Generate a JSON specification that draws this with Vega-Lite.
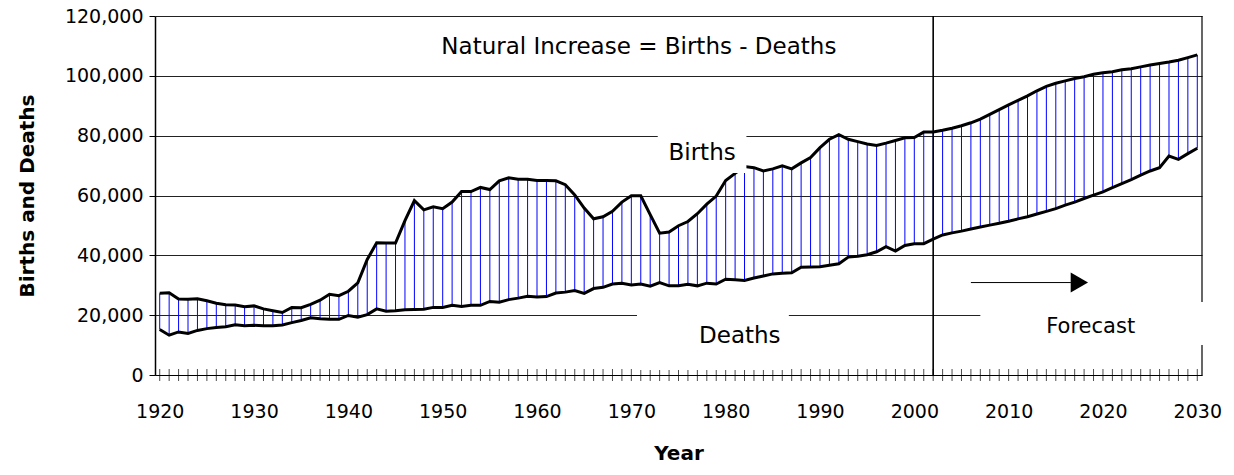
{
  "$schema": "https://vega.github.io/schema/vega-lite/v6.json",
  "width": 1047,
  "height": 359,
  "autosize": "none",
  "padding": {"left": 155, "top": 16, "right": 32, "bottom": 100},
  "background": "white",
  "config": {
    "view": {"stroke": null},
    "font": "DejaVu Sans",
    "axis": {"labelFont": "DejaVu Sans", "titleFont": "DejaVu Sans", "labelColor": "black", "titleColor": "black", "domainColor": "black", "tickColor": "black", "labelFontSize": 19, "titleFontSize": 20, "titleFontWeight": "bold"},
    "axisX": {"ticks": false, "grid": false, "domainWidth": 1, "labelPadding": 27, "titlePadding": 22, "labelExpr": "format(datum.value, 'd')"},
    "axisY": {"grid": true, "gridColor": "#222222", "gridWidth": 1, "domainWidth": 1.5, "tickSize": 6, "labelPadding": 6, "titlePadding": 27, "labelExpr": "format(datum.value, ',')"}
  },
  "datasets": {
    "d": [
      {"year": 1920, "births": 27300, "deaths": 15200},
      {"year": 1921, "births": 27500, "deaths": 13300},
      {"year": 1922, "births": 25400, "deaths": 14400},
      {"year": 1923, "births": 25300, "deaths": 13900},
      {"year": 1924, "births": 25500, "deaths": 14900},
      {"year": 1925, "births": 24800, "deaths": 15500},
      {"year": 1926, "births": 24000, "deaths": 15900},
      {"year": 1927, "births": 23500, "deaths": 16100},
      {"year": 1928, "births": 23400, "deaths": 16800},
      {"year": 1929, "births": 22800, "deaths": 16500},
      {"year": 1930, "births": 23100, "deaths": 16600},
      {"year": 1931, "births": 22100, "deaths": 16500},
      {"year": 1932, "births": 21500, "deaths": 16500},
      {"year": 1933, "births": 20900, "deaths": 16700},
      {"year": 1934, "births": 22600, "deaths": 17500},
      {"year": 1935, "births": 22500, "deaths": 18200},
      {"year": 1936, "births": 23600, "deaths": 19100},
      {"year": 1937, "births": 25000, "deaths": 18800},
      {"year": 1938, "births": 27000, "deaths": 18600},
      {"year": 1939, "births": 26500, "deaths": 18600},
      {"year": 1940, "births": 28000, "deaths": 19900},
      {"year": 1941, "births": 30800, "deaths": 19300},
      {"year": 1942, "births": 38600, "deaths": 20200},
      {"year": 1943, "births": 44200, "deaths": 22100},
      {"year": 1944, "births": 44100, "deaths": 21300},
      {"year": 1945, "births": 44100, "deaths": 21500},
      {"year": 1946, "births": 51600, "deaths": 21800},
      {"year": 1947, "births": 58300, "deaths": 21900},
      {"year": 1948, "births": 55200, "deaths": 22000},
      {"year": 1949, "births": 56200, "deaths": 22600},
      {"year": 1950, "births": 55600, "deaths": 22600},
      {"year": 1951, "births": 57800, "deaths": 23300},
      {"year": 1952, "births": 61300, "deaths": 22900},
      {"year": 1953, "births": 61300, "deaths": 23300},
      {"year": 1954, "births": 62700, "deaths": 23300},
      {"year": 1955, "births": 62000, "deaths": 24600},
      {"year": 1956, "births": 64900, "deaths": 24300},
      {"year": 1957, "births": 65900, "deaths": 25200},
      {"year": 1958, "births": 65400, "deaths": 25700},
      {"year": 1959, "births": 65400, "deaths": 26300},
      {"year": 1960, "births": 65000, "deaths": 26100},
      {"year": 1961, "births": 65000, "deaths": 26200},
      {"year": 1962, "births": 64900, "deaths": 27400},
      {"year": 1963, "births": 63600, "deaths": 27700},
      {"year": 1964, "births": 60200, "deaths": 28200},
      {"year": 1965, "births": 55800, "deaths": 27300},
      {"year": 1966, "births": 52200, "deaths": 28900},
      {"year": 1967, "births": 52900, "deaths": 29300},
      {"year": 1968, "births": 54700, "deaths": 30400},
      {"year": 1969, "births": 57800, "deaths": 30700},
      {"year": 1970, "births": 59900, "deaths": 30100},
      {"year": 1971, "births": 59900, "deaths": 30400},
      {"year": 1972, "births": 53600, "deaths": 29700},
      {"year": 1973, "births": 47400, "deaths": 30900},
      {"year": 1974, "births": 47800, "deaths": 29800},
      {"year": 1975, "births": 49900, "deaths": 29800},
      {"year": 1976, "births": 51300, "deaths": 30300},
      {"year": 1977, "births": 53900, "deaths": 29800},
      {"year": 1978, "births": 57100, "deaths": 30700},
      {"year": 1979, "births": 59800, "deaths": 30400},
      {"year": 1980, "births": 65000, "deaths": 32000},
      {"year": 1981, "births": 67400, "deaths": 31800},
      {"year": 1982, "births": 69700, "deaths": 31600},
      {"year": 1983, "births": 69300, "deaths": 32400},
      {"year": 1984, "births": 68200, "deaths": 33100},
      {"year": 1985, "births": 68900, "deaths": 33800},
      {"year": 1986, "births": 69900, "deaths": 34000},
      {"year": 1987, "births": 68900, "deaths": 34200},
      {"year": 1988, "births": 70900, "deaths": 36000},
      {"year": 1989, "births": 72700, "deaths": 36100},
      {"year": 1990, "births": 76000, "deaths": 36200},
      {"year": 1991, "births": 78800, "deaths": 36700},
      {"year": 1992, "births": 80300, "deaths": 37200},
      {"year": 1993, "births": 78800, "deaths": 39400},
      {"year": 1994, "births": 78000, "deaths": 39700},
      {"year": 1995, "births": 77200, "deaths": 40200},
      {"year": 1996, "births": 76700, "deaths": 41200},
      {"year": 1997, "births": 77500, "deaths": 42900},
      {"year": 1998, "births": 78400, "deaths": 41400},
      {"year": 1999, "births": 79300, "deaths": 43300},
      {"year": 2000, "births": 79400, "deaths": 43900},
      {"year": 2001, "births": 81200, "deaths": 43900},
      {"year": 2002, "births": 81200, "deaths": 45400},
      {"year": 2003, "births": 81800, "deaths": 46800},
      {"year": 2004, "births": 82500, "deaths": 47500},
      {"year": 2005, "births": 83300, "deaths": 48100},
      {"year": 2006, "births": 84300, "deaths": 48800},
      {"year": 2007, "births": 85500, "deaths": 49500},
      {"year": 2008, "births": 87100, "deaths": 50100},
      {"year": 2009, "births": 88700, "deaths": 50700},
      {"year": 2010, "births": 90300, "deaths": 51400},
      {"year": 2011, "births": 91800, "deaths": 52200},
      {"year": 2012, "births": 93300, "deaths": 52900},
      {"year": 2013, "births": 95000, "deaths": 53800},
      {"year": 2014, "births": 96500, "deaths": 54700},
      {"year": 2015, "births": 97500, "deaths": 55600},
      {"year": 2016, "births": 98300, "deaths": 56800},
      {"year": 2017, "births": 99100, "deaths": 57800},
      {"year": 2018, "births": 99700, "deaths": 59000},
      {"year": 2019, "births": 100500, "deaths": 60100},
      {"year": 2020, "births": 101000, "deaths": 61200},
      {"year": 2021, "births": 101400, "deaths": 62600},
      {"year": 2022, "births": 102000, "deaths": 64000},
      {"year": 2023, "births": 102400, "deaths": 65300},
      {"year": 2024, "births": 103000, "deaths": 66800},
      {"year": 2025, "births": 103600, "deaths": 68200},
      {"year": 2026, "births": 104100, "deaths": 69300},
      {"year": 2027, "births": 104600, "deaths": 73200},
      {"year": 2028, "births": 105200, "deaths": 72100},
      {"year": 2029, "births": 106100, "deaths": 74000},
      {"year": 2030, "births": 107000, "deaths": 75800}
    ],
    "vlines": [
      {"year": 2002, "w": "forecast"},
      {"year": 2030.5, "w": "edge"}
    ],
    "boxes": [
      {"year": 1972.8, "year2": 1982.2, "value": 67500, "value2": 83600},
      {"year": 1970.6, "year2": 1986.7, "value": 1700, "value2": 23400},
      {"year": 2007.0, "year2": 2030.9, "value": 10000, "value2": 24400}
    ],
    "labels": [
      {"year": 1970.8, "value": 109700, "text": "Natural Increase = Births - Deaths", "size": "big"},
      {"year": 1977.5, "value": 74200, "text": "Births", "size": "big"},
      {"year": 1981.5, "value": 13000, "text": "Deaths", "size": "big"},
      {"year": 2018.7, "value": 16200, "text": "Forecast", "size": "small"}
    ],
    "arrow": [
      {"year": 2006.0, "year2": 2016.6, "head": 2017.5, "value": 30900}
    ]
  },
  "layer": [
    {
      "data": {"name": "d"},
      "mark": {"type": "rule", "color": "#0000ff", "strokeWidth": 1},
      "encoding": {
        "x": {"field": "year", "type": "quantitative", "title": "Year",
          "scale": {"domain": [1919.5, 2030.5], "nice": false, "zero": false},
          "axis": {"values": [1920, 1930, 1940, 1950, 1960, 1970, 1980, 1990, 2000, 2010, 2020, 2030]}},
        "y": {"field": "deaths", "type": "quantitative", "title": "Births and Deaths",
          "scale": {"domain": [0, 120000], "nice": false},
          "axis": {"values": [0, 20000, 40000, 60000, 80000, 100000, 120000]}},
        "y2": {"field": "births"}
      }
    },
    {
      "data": {"name": "vlines"},
      "mark": {"type": "rule", "color": "black"},
      "encoding": {
        "x": {"field": "year", "type": "quantitative", "title": "Year",
          "axis": {"values": [1920, 1930, 1940, 1950, 1960, 1970, 1980, 1990, 2000, 2010, 2020, 2030]}},
        "strokeWidth": {"field": "w", "type": "nominal", "scale": {"domain": ["forecast", "edge"], "range": [1.6, 1.2]}, "legend": null}
      }
    },
    {
      "data": {"name": "d"},
      "mark": {"type": "line", "color": "black", "strokeWidth": 3},
      "encoding": {
        "x": {"field": "year", "type": "quantitative", "title": "Year",
          "axis": {"values": [1920, 1930, 1940, 1950, 1960, 1970, 1980, 1990, 2000, 2010, 2020, 2030]}},
        "y": {"field": "births", "type": "quantitative", "title": "Births and Deaths",
          "axis": {"values": [0, 20000, 40000, 60000, 80000, 100000, 120000]}}
      }
    },
    {
      "data": {"name": "d"},
      "mark": {"type": "line", "color": "black", "strokeWidth": 3},
      "encoding": {
        "x": {"field": "year", "type": "quantitative", "title": "Year",
          "axis": {"values": [1920, 1930, 1940, 1950, 1960, 1970, 1980, 1990, 2000, 2010, 2020, 2030]}},
        "y": {"field": "deaths", "type": "quantitative", "title": "Births and Deaths",
          "axis": {"values": [0, 20000, 40000, 60000, 80000, 100000, 120000]}}
      }
    },
    {
      "data": {"name": "d"},
      "mark": {"type": "tick", "orient": "vertical", "color": "black", "size": 12, "thickness": 1},
      "encoding": {
        "x": {"field": "year", "type": "quantitative", "title": "Year",
          "axis": {"values": [1920, 1930, 1940, 1950, 1960, 1970, 1980, 1990, 2000, 2010, 2020, 2030]}},
        "y": {"datum": 0, "type": "quantitative", "title": "Births and Deaths",
          "axis": {"values": [0, 20000, 40000, 60000, 80000, 100000, 120000]}}
      }
    },
    {
      "data": {"name": "boxes"},
      "mark": {"type": "rect", "color": "white", "opacity": 1},
      "encoding": {
        "x": {"field": "year", "type": "quantitative", "title": "Year",
          "axis": {"values": [1920, 1930, 1940, 1950, 1960, 1970, 1980, 1990, 2000, 2010, 2020, 2030]}},
        "x2": {"field": "year2"},
        "y": {"field": "value", "type": "quantitative", "title": "Births and Deaths",
          "axis": {"values": [0, 20000, 40000, 60000, 80000, 100000, 120000]}},
        "y2": {"field": "value2"}
      }
    },
    {
      "data": {"name": "labels"},
      "mark": {"type": "text", "font": "DejaVu Sans", "color": "black", "align": "center", "baseline": "middle"},
      "encoding": {
        "x": {"field": "year", "type": "quantitative", "title": "Year",
          "axis": {"values": [1920, 1930, 1940, 1950, 1960, 1970, 1980, 1990, 2000, 2010, 2020, 2030]}},
        "y": {"field": "value", "type": "quantitative", "title": "Births and Deaths",
          "axis": {"values": [0, 20000, 40000, 60000, 80000, 100000, 120000]}},
        "text": {"field": "text"},
        "size": {"field": "size", "type": "nominal", "scale": {"domain": ["big", "small"], "range": [23, 21]}, "legend": null}
      }
    },
    {
      "data": {"name": "arrow"},
      "mark": {"type": "rule", "color": "black", "strokeWidth": 1},
      "encoding": {
        "x": {"field": "year", "type": "quantitative", "title": "Year",
          "axis": {"values": [1920, 1930, 1940, 1950, 1960, 1970, 1980, 1990, 2000, 2010, 2020, 2030]}},
        "x2": {"field": "year2"},
        "y": {"field": "value", "type": "quantitative", "title": "Births and Deaths",
          "axis": {"values": [0, 20000, 40000, 60000, 80000, 100000, 120000]}}
      }
    },
    {
      "data": {"name": "arrow"},
      "mark": {"type": "point", "shape": "triangle-right", "filled": true, "color": "black", "size": 400, "opacity": 1},
      "encoding": {
        "x": {"field": "head", "type": "quantitative", "title": "Year",
          "axis": {"values": [1920, 1930, 1940, 1950, 1960, 1970, 1980, 1990, 2000, 2010, 2020, 2030]}},
        "y": {"field": "value", "type": "quantitative", "title": "Births and Deaths",
          "axis": {"values": [0, 20000, 40000, 60000, 80000, 100000, 120000]}}
      }
    }
  ]
}
